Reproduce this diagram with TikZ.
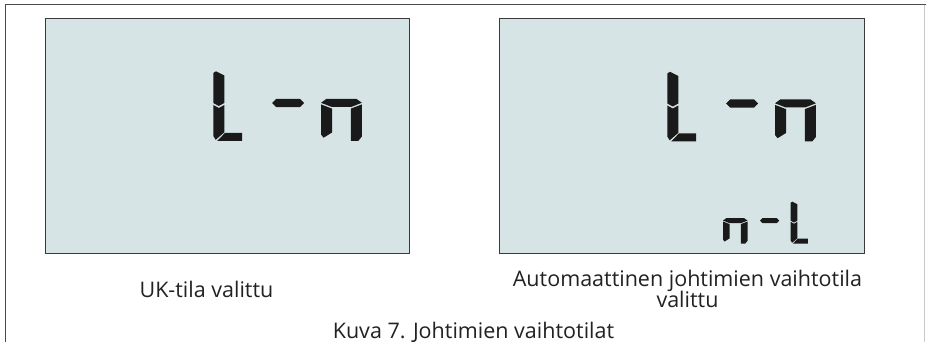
\documentclass[tikz,border=0pt]{standalone}
\usepackage{fontspec}
\setmainfont{Open Sans}
\definecolor{lcdbg}{HTML}{D6E4E5}
\definecolor{lcdedge}{HTML}{3A3A3A}
\definecolor{segc}{HTML}{1A1A1A}
\definecolor{txtc}{HTML}{222222}
\definecolor{framedark}{HTML}{4A4A4A}
\definecolor{framelight}{HTML}{C8C8C8}
\tikzset{
  lcd/.style={fill=lcdbg,draw=lcdedge,line width=0.9pt},
  seg/.style={fill=segc,draw=none},
  lbl/.style={font=\fontsize{21.5}{24}\selectfont,text=txtc,inner sep=0pt,anchor=base,align=center},
}
% glyph macros: #1 = x origin, #2 = y origin, #3 = scale
\newcommand{\glyphL}[3]{%
  \begin{scope}[shift={(#1,#2)},scale=#3]
    \fill[seg] (0,2) -- (2.7,0.3) -- (11,4.5) -- (11,32) -- (5.5,35) -- (0,32) -- cycle;
    \fill[seg] (0,34) -- (5.5,37) -- (11,34) -- (11,61.3) -- (2.4,68.8) -- (0,65) -- cycle;
    \fill[seg] (3.9,70) -- (11.6,62) -- (28.7,62) -- (28.7,70) -- cycle;
  \end{scope}}
\newcommand{\glyphDash}[3]{%
  \begin{scope}[shift={(#1,#2)},scale=#3]
    \fill[seg] (0,32) -- (4.2,27.8) -- (27.8,27.8) -- (32,32) -- (27.8,36.2) -- (4.2,36.2) -- cycle;
  \end{scope}}
\newcommand{\glyphN}[3]{%
  \begin{scope}[shift={(#1,#2)},scale=#3]
    \fill[seg] (0,31.8) -- (5.5,27.8) -- (35.3,27.8) -- (40.9,31.8) -- (30,36) -- (10.9,36) -- cycle;
    \fill[seg] (0,33.4) -- (11,37.6) -- (11,61.5) -- (2.6,66.7) -- (0,63.5) -- cycle;
    \fill[seg] (29.9,37.6) -- (40.9,33.4) -- (40.9,65.5) -- (37.2,70) -- (29.9,70) -- cycle;
  \end{scope}}
\begin{document}
\begin{tikzpicture}[x=1pt,y=-1pt]
  \useasboundingbox (0,0) rectangle (926,342);
  \fill[white] (0,0) rectangle (926,342);
  % frame
  \coordinate (ftl) at (5.6,4.6);
  \coordinate (ftr) at (926,4.6);
  \coordinate (fbl) at (5.6,342);
  \coordinate (frt) at (924.8,5.3);
  \coordinate (frb) at (924.8,342);
  \draw[framelight,line width=1.1pt] (frt) -- (frb);
  \draw[framedark,line width=1.4pt] (fbl) -- (ftl) -- (ftr);
  % LCD panels
  \draw[lcd] (45.2,18.2) rectangle (409.6,253.2);
  \draw[lcd] (499.8,18.2) rectangle (864.6,253.2);
  % left display: L - n
  \glyphL{213.3}{71}{1}
  \glyphDash{272}{71}{1}
  \glyphN{321}{71}{1}
  % right display: L - n
  \glyphL{667.3}{71.5}{1}
  \glyphDash{726}{71.5}{1}
  \glyphN{775}{71.5}{1}
  % right display small: n - L
  \glyphN{723}{201.5}{0.6}
  \glyphDash{760}{201.5}{0.6}
  \glyphL{790.7}{201.5}{0.6}
  % labels
  \node[lbl] (uk) at (206.5,297.5) {UK-tila valittu};
  \node[lbl] (auto1) at (687.5,286.5) {Automaattinen johtimien vaihtotila};
  \node[lbl] (auto2) at (687.5,307.2) {valittu};
  \node[lbl] (cap) at (473.5,338.5) {Kuva 7. Johtimien vaihtotilat};
\end{tikzpicture}
\end{document}
